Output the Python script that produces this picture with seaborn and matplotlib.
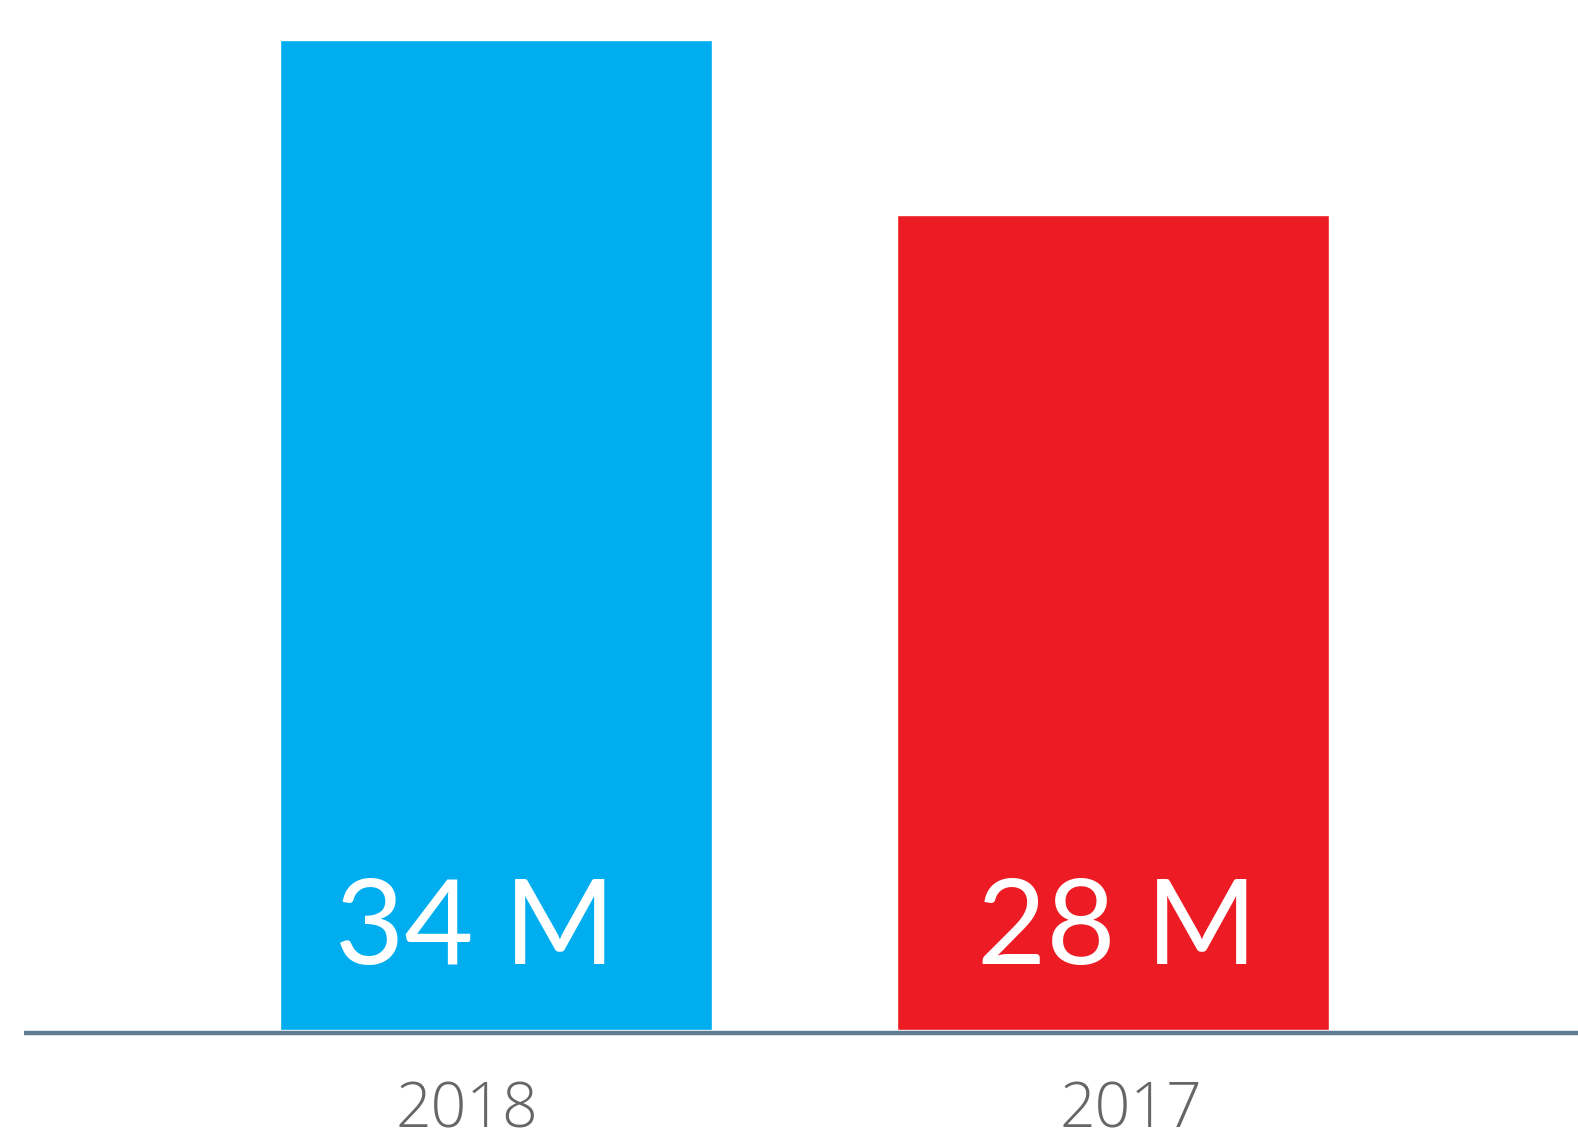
import matplotlib
matplotlib.use("Agg")
import matplotlib.pyplot as plt
import seaborn as sns
import pandas as pd

# Data
years = ["2018", "2017"]
values = [34, 28]
value_labels = ["34 M", "28 M"]
bar_colors = ["#00AEEF", "#ED1C24"]

sns.set_theme(style="white")
plt.rcParams["font.family"] = ["Lato", "DejaVu Sans"]

df = pd.DataFrame({"year": years, "value": values})

fig = plt.figure(figsize=(15.78, 11.36), dpi=100)
ax = fig.add_axes([0, 0, 1, 1])

sns.barplot(data=df, x="year", y="value", hue="year", palette=bar_colors,
            width=0.70, dodge=False, legend=False, saturation=1, ax=ax)

ax.set_xlim(-0.804, 1.754)
ax.set_ylim(-3.64, 35.37)
ax.axis("off")

# baseline under the bars
ax.axhline(-0.10, xmin=0.0152, xmax=1.0, color="#5F7D93", linewidth=3.2,
           solid_capstyle="butt")

# value labels inside bars, year labels below
val_offsets = [-0.034, 0.006]
year_offsets = [-0.047, 0.029]
for i, (lab, yr) in enumerate(zip(value_labels, years)):
    ax.text(i + val_offsets[i], 2.27, lab, color="white", fontsize=86,
            ha="center", va="baseline")
    ax.text(i + year_offsets[i], -3.36, yr, color="#666666", fontsize=45,
            family=["Open Sans", "DejaVu Sans"], fontweight="light",
            ha="center", va="baseline")

fig.savefig("out.png", dpi=100)
